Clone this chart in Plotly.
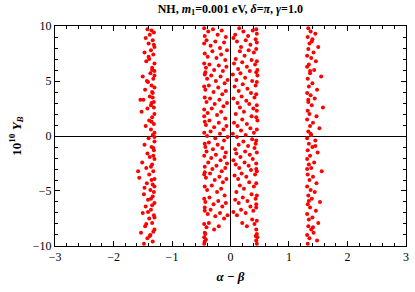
import plotly.graph_objects as go

# Band near alpha-beta ~ -1.45
band1_x = [-1.42,-1.35,-1.38,-1.31,-1.45,-1.33,-1.40,-1.30,-1.36,-1.47,-1.32,-1.39,-1.44,-1.30,-1.34,-1.30,-1.37,-1.50,-1.32,-1.41,
           -1.35,-1.30,-1.46,-1.33,-1.38,-1.54,-1.49,-1.31,-1.36,-1.42,-1.52,-1.30,-1.34,-1.39,-1.31,-1.45,-1.36,-1.30,-1.33,-1.40,
           -1.30,-1.47,-1.35,-1.31,-1.42,-1.38,-1.30,-1.51,-1.34,-1.44,-1.32,-1.39,-1.56,-1.35,-1.43,-1.30,-1.37,-1.48,-1.33,-1.41,
           -1.30,-1.45,-1.36,-1.50,-1.31,-1.39,-1.34,-1.46,-1.30,-1.53,-1.37,-1.42,-1.33,-1.48,-1.31,-1.34,-1.30,-1.33,-1.31,-1.35,
           -1.30,-1.32,-1.32,-1.36,-1.30,-1.33,-1.31,-1.34,-1.30,-1.40,-1.43,-1.35,-1.58,-1.36,-1.41,-1.44,-1.38,-1.34,-1.47,-1.32]
band1_y = [9.7,9.6,9.2,9.4,8.9,8.7,8.4,8.1,7.8,7.6,7.4,7.0,6.8,6.6,6.2,5.9,5.7,5.4,5.2,4.9,
           4.6,4.4,4.2,3.9,3.6,3.3,3.3,3.1,2.8,2.5,2.2,2.0,1.7,1.4,1.1,0.9,0.6,0.3,0.1,-0.2,
           -0.5,-0.8,-1.0,-1.3,-1.6,-1.9,-2.1,-2.4,-2.6,-2.9,-3.2,-3.5,-3.8,-4.0,-4.3,-4.6,-4.9,-5.3,-5.5,-5.8,
           -6.1,-6.4,-6.7,-7.0,-7.2,-7.5,-7.9,-8.2,-8.5,-8.8,-9.0,-9.3,-9.6,-9.8,8.3,6.0,5.5,3.5,2.6,1.3,
           -0.1,-1.1,-1.8,-2.8,-3.9,-4.4,-5.1,-6.3,-7.4,7.2,5.0,3.0,-3.2,-5.7,-6.9,-8.0,-9.1,4.0,-4.7,-8.7]

# Band just left of zero
band2_x = [-0.45,-0.44,-0.38,-0.30,-0.22,-0.15,-0.08,-0.45,-0.41,-0.34,-0.26,-0.18,-0.11,-0.06,-0.44,-0.39,-0.31,-0.24,-0.16,-0.09,
           -0.45,-0.42,-0.36,-0.28,-0.20,-0.13,-0.07,-0.44,-0.40,-0.33,-0.25,-0.17,-0.10,-0.05,-0.45,-0.43,-0.37,-0.29,-0.21,-0.14,
           -0.08,-0.44,-0.41,-0.35,-0.27,-0.19,-0.12,-0.06,-0.45,-0.39,-0.32,-0.23,-0.16,-0.09,-0.44,-0.42,-0.36,-0.28,-0.20,-0.12,
           -0.07,-0.45,-0.40,-0.34,-0.26,-0.18,-0.11,-0.05,-0.44,-0.43,-0.37,-0.30,-0.22,-0.14,-0.08,-0.45,-0.41,-0.33,-0.25,-0.17,
           -0.10,-0.06,-0.44,-0.38,-0.31,-0.24,-0.15,-0.09,-0.45,-0.42,-0.35,-0.27,-0.19,-0.13,-0.07,-0.44,-0.40,-0.32,-0.23,-0.16,
           -0.10,-0.45,-0.43,-0.36,-0.29,-0.21,-0.14,-0.08,-0.44,-0.39,-0.34,-0.26,-0.18,-0.11,-0.05,-0.45,-0.41,-0.37,-0.28,-0.20,
           -0.44,-0.45,-0.43,-0.44,-0.45,-0.42,-0.44,-0.45,-0.43,-0.44]
band2_y = [9.8,9.1,9.5,9.7,9.2,9.6,9.0,8.4,8.7,8.2,8.6,8.0,8.5,7.8,7.5,7.2,7.7,7.1,7.4,6.9,
           6.6,6.2,6.5,6.0,6.4,5.9,6.3,5.6,5.2,5.5,5.0,5.4,4.8,5.1,4.5,4.2,4.6,4.0,4.4,3.8,
           4.1,3.5,3.1,3.4,2.9,3.3,2.7,3.0,2.4,2.1,2.5,1.9,2.2,1.6,1.3,1.0,1.4,0.8,1.2,0.6,
           0.9,0.3,0.0,0.4,-0.2,0.2,-0.4,-0.1,-0.7,-1.0,-0.6,-1.2,-0.8,-1.1,-1.5,-1.8,-1.4,-2.0,-1.7,-2.2,
           -1.9,-2.5,-2.8,-2.4,-3.0,-2.7,-3.2,-2.9,-3.5,-3.8,-3.4,-4.0,-3.7,-4.2,-3.9,-4.6,-4.9,-4.5,-5.1,-4.8,
           -5.4,-5.7,-6.0,-5.6,-6.2,-5.9,-6.4,-6.1,-6.8,-7.1,-6.7,-7.3,-7.0,-7.5,-7.2,-8.0,-8.3,-7.9,-8.5,-8.2,
           -8.8,-9.2,-8.9,-9.6,-9.8,-9.4,-3.3,1.8,5.8,-6.5]

# Band just right of zero
band3_x = [0.44,0.45,0.38,0.30,0.22,0.15,0.08,0.43,0.45,0.34,0.26,0.18,0.11,0.05,0.44,0.40,0.31,0.24,0.16,0.09,
           0.45,0.42,0.36,0.28,0.20,0.13,0.06,0.44,0.46,0.33,0.25,0.17,0.10,0.04,0.45,0.43,0.37,0.29,0.21,0.14,
           0.07,0.44,0.41,0.35,0.27,0.19,0.12,0.05,0.45,0.39,0.32,0.23,0.16,0.09,0.44,0.46,0.36,0.28,0.20,0.12,
           0.06,0.45,0.40,0.34,0.26,0.18,0.11,0.04,0.44,0.43,0.37,0.30,0.22,0.14,0.08,0.45,0.41,0.33,0.25,0.17,
           0.10,0.05,0.44,0.38,0.31,0.24,0.15,0.09,0.45,0.42,0.35,0.27,0.19,0.13,0.07,0.44,0.40,0.32,0.23,0.16,
           0.10,0.45,0.43,0.36,0.29,0.21,0.14,0.08,0.44,0.39,0.34,0.26,0.18,0.11,0.05,0.45,0.41,0.37,0.28,0.20,
           0.44,0.45,0.46,0.44,0.45,0.43,0.44,0.45,0.46,0.44]
band3_y = [9.7,9.3,9.6,9.1,9.5,9.8,9.2,8.8,8.5,8.3,8.7,8.1,8.6,8.9,7.9,7.6,7.8,7.3,7.7,7.0,
           6.8,6.5,6.9,6.3,6.7,6.1,6.6,5.8,5.5,5.9,5.3,5.7,5.1,5.6,4.9,4.6,5.0,4.3,4.7,4.1,
           4.5,3.8,3.5,3.9,3.2,3.6,3.0,3.4,2.8,2.5,2.9,2.2,2.6,2.0,1.7,1.4,1.8,1.1,1.5,0.9,
           1.2,0.6,0.3,0.7,0.1,0.5,-0.1,0.2,-0.4,-0.7,-0.3,-0.9,-0.5,-0.8,-1.2,-1.5,-1.1,-1.7,-1.4,-1.9,
           -1.6,-2.2,-2.5,-2.1,-2.7,-2.4,-2.9,-2.6,-3.2,-3.5,-3.1,-3.7,-3.4,-3.9,-3.6,-4.3,-4.6,-4.2,-4.8,-4.5,
           -5.1,-5.4,-5.7,-5.3,-5.9,-5.6,-6.1,-5.8,-6.5,-6.8,-6.4,-7.0,-6.7,-7.2,-6.9,-7.7,-8.0,-7.6,-8.2,-7.9,
           -8.5,-8.9,-9.2,-9.5,-9.8,-9.1,-3.0,2.3,6.0,-6.2]

# Band near alpha-beta ~ 1.4
band4_x = [1.33,1.37,1.45,1.32,1.40,1.35,1.50,1.33,1.42,1.31,1.38,1.46,1.34,1.31,1.43,1.36,1.55,1.32,1.40,1.34,
           1.48,1.31,1.37,1.44,1.33,1.39,1.58,1.32,1.35,1.47,1.31,1.41,1.36,1.52,1.33,1.38,1.31,1.45,1.34,1.40,
           1.32,1.49,1.36,1.31,1.43,1.34,1.38,1.56,1.32,1.41,1.35,1.47,1.31,1.37,1.44,1.33,1.39,1.53,1.32,1.36,
           1.46,1.31,1.40,1.34,1.50,1.33,1.38,1.42,1.31,1.35,1.48,1.32,1.37,1.45,1.31,1.34,1.41,1.33,1.36,1.39]
band4_y = [9.8,9.5,9.3,9.0,8.8,8.4,8.1,7.9,7.6,7.3,7.1,6.8,6.5,6.3,6.0,5.7,5.4,5.2,4.8,4.5,
           4.2,3.9,3.7,3.4,3.1,2.8,2.6,2.3,2.0,1.8,1.5,1.2,0.9,0.7,0.4,0.1,-0.2,-0.4,-0.7,-1.0,
           -1.3,-1.5,-1.8,-2.1,-2.4,-2.6,-2.9,-3.2,-3.5,-3.7,-4.0,-4.3,-4.6,-4.9,-5.1,-5.4,-5.7,-6.0,-6.2,-6.5,
           -6.8,-7.1,-7.4,-7.6,-7.9,-8.2,-8.5,-8.8,-9.0,-9.3,-9.5,-9.8,0.2,-0.9,-3.0,-5.9,-8.3,3.3,5.9,8.6]

x_ticks = [-3, -2, -1, 0, 1, 2, 3]
y_ticks = [-10, -5, 0, 5, 10]

xs = band1_x + band2_x + band3_x + band4_x
ys = band1_y + band2_y + band3_y + band4_y

serif = "Liberation Serif, Times New Roman, serif"

fig = go.Figure()
fig.add_trace(go.Scatter(
    x=xs, y=ys, mode="markers",
    marker=dict(color="#ff0000", size=4, line=dict(width=0)),
    showlegend=False,
))

axis_common = dict(
    showline=True, linecolor="black", linewidth=1, mirror="ticks",
    ticks="inside", ticklen=5, tickcolor="black", tickwidth=1,
    showgrid=False, zeroline=True, zerolinecolor="black", zerolinewidth=1,
    tickfont=dict(family=serif, size=12, color="black"),
    ticklabeloverflow="allow",
)

fig.update_xaxes(
    range=[-3.0005, 3.0005], tickvals=x_ticks, ticktext=[str(v).replace("-", "−") for v in x_ticks],
    minor=dict(dtick=0.2, ticks="inside", ticklen=3, tickcolor="black", showgrid=False),
    title=dict(text="<b><i>α</i> − <i>β</i></b>", font=dict(family=serif, size=13, color="black"), standoff=8),
    **axis_common,
)
fig.update_yaxes(
    range=[-10.001, 10.001], tickvals=y_ticks, ticktext=[str(v).replace("-", "−") for v in y_ticks],
    minor=dict(dtick=1, ticks="inside", ticklen=3, tickcolor="black", showgrid=False),
    title=dict(text="<b>10<sup>10</sup> <i>Y<sub>B</sub></i></b>", font=dict(family=serif, size=13, color="black"), standoff=8),
    **axis_common,
)

fig.update_layout(
    width=415, height=292,
    margin=dict(l=55, r=6, t=26, b=46),
    plot_bgcolor="white", paper_bgcolor="white",
    title=dict(text="<b>NH, <i>m</i><sub>1</sub>=0.001 eV, <i>δ</i>=<i>π</i>, <i>γ</i>=1.0</b>",
               x=0.555, xanchor="center", y=0.985, yanchor="top",
               font=dict(family=serif, size=12, color="black")),
)

fig.write_html("out.html", config={"displayModeBar": False},
               post_script="document.body.style.margin='0';document.body.style.padding='0';")
